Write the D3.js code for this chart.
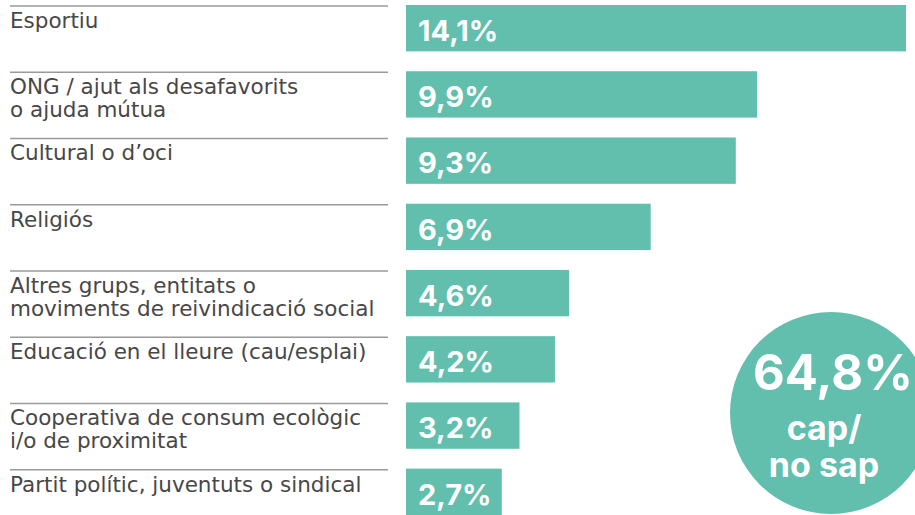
<!DOCTYPE html>
<html>
<head>
<meta charset="utf-8">
<script src="https://cdn.jsdelivr.net/npm/d3@7"></script>
<style>
  html, body { margin: 0; padding: 0; background: #fff; }
  svg { display: block; }
</style>
</head>
<body>
<div id="chart"></div>
<script>
// dades
const categories = [
    ["Esportiu"],
    ["ONG / ajut als desafavorits", "o ajuda mútua"],
    ["Cultural o d’oci"],
    ["Religiós"],
    ["Altres grups, entitats o", "moviments de reivindicació social"],
    ["Educació en el lleure (cau/esplai)"],
    ["Cooperativa de consum ecològic", "i/o de proximitat"],
    ["Partit polític, juventuts o sindical"]
];
const values = [14.1, 9.9, 9.3, 6.9, 4.6, 4.2, 3.2, 2.7];
const noneValue = 64.8;
const noneLabel = ["cap/", "no sap"];

const width = 915, height = 515;
const color = "#62bfad";
const textColor = "#474747";
const fmt = v => v.toFixed(1).replace(".", ",") + "%";

const svg = d3.select("#chart").append("svg")
    .attr("width", width)
    .attr("height", height);

// escales
const y = d3.scaleBand()
    .domain(d3.range(values.length))
    .range([5, 515])
    .paddingInner(0.3)
    .paddingOuter(0);

const x = d3.scaleLinear()
    .domain([0, d3.max(values)])
    .range([406, 906]);

const rows = svg.selectAll("g.row")
    .data(values)
    .enter()
    .append("g")
    .attr("class", "row");

// línia separadora
rows.append("line")
    .attr("x1", 10)
    .attr("x2", 388)
    .attr("y1", (d, i) => y(i) + 1)
    .attr("y2", (d, i) => y(i) + 1)
    .attr("stroke", "#9a9a9a")
    .attr("stroke-width", 1.5);

// etiquetes de categoria
rows.append("text")
    .attr("x", 10)
    .attr("y", (d, i) => y(i) + 23)
    .style("font-family", "'DejaVu Sans', sans-serif")
    .style("font-size", "21.5px")
    .attr("fill", textColor)
    .selectAll("tspan")
    .data((d, i) => categories[i])
    .enter()
    .append("tspan")
    .attr("x", 10)
    .attr("dy", (d, j) => j === 0 ? 0 : 23)
    .text(d => d);

// barres
rows.append("rect")
    .attr("x", x(0))
    .attr("y", (d, i) => y(i))
    .attr("width", d => x(d) - x(0))
    .attr("height", y.bandwidth())
    .attr("fill", color);

rows.append("text")
    .attr("x", x(0) + 12)
    .attr("y", (d, i) => y(i) + 36)
    .style("font-family", "Inter, sans-serif")
    .style("font-size", "29px")
    .style("font-weight", "700")
    .attr("fill", "#fff")
    .text(d => fmt(d));

// cercle "cap / no sap"
const circle = svg.append("g")
    .attr("transform", "translate(831, 413)");

circle.append("circle")
    .attr("r", 101)
    .attr("fill", color);

circle.append("text")
    .attr("x", 2)
    .attr("y", -23)
    .attr("text-anchor", "middle")
    .style("font-family", "Inter, sans-serif")
    .style("font-size", "49px")
    .style("font-weight", "700")
    .attr("fill", "#fff")
    .text(fmt(noneValue));

circle.append("text")
    .attr("text-anchor", "middle")
    .style("font-family", "Inter, sans-serif")
    .style("font-size", "34px")
    .style("font-weight", "700")
    .attr("fill", "#fff")
    .selectAll("tspan")
    .data(noneLabel)
    .enter()
    .append("tspan")
    .attr("x", -7)
    .attr("y", (d, i) => 27 + i * 37)
    .text(d => d);
</script>
</body>
</html>
